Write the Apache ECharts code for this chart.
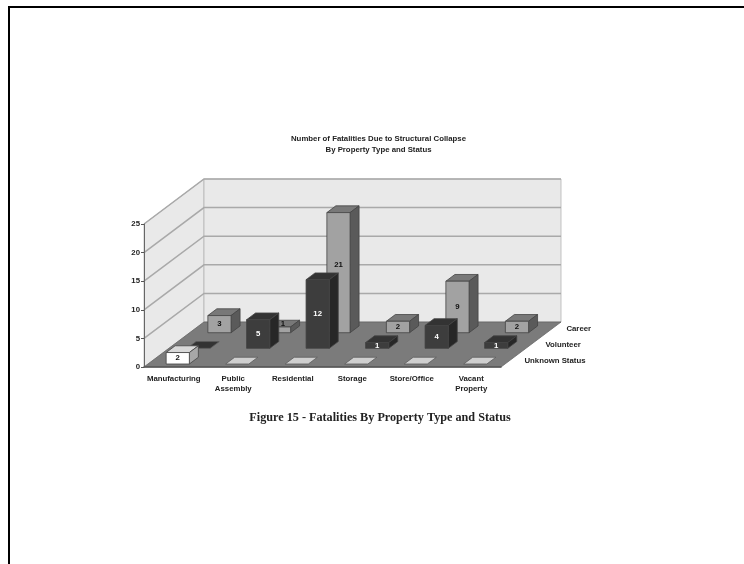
<!DOCTYPE html>
<html>
<head>
<meta charset="utf-8">
<style>html,body{margin:0;padding:0;background:#fff}#chart{width:744px;height:564px}</style>
<script src="https://cdn.jsdelivr.net/npm/echarts@6/dist/echarts.min.js"></script>
</head>
<body>
<div id="chart"></div>
<script>
const categories = ['Manufacturing', 'Public\nAssembly', 'Residential', 'Storage', 'Store/Office', 'Vacant\nProperty'];
const yTicks = [0, 5, 10, 15, 20, 25];
const career = [3, 1, 21, 2, 9, 2];
const volunteer = [0, 5, 12, 1, 4, 1];
const unknownStatus = [2, 0, 0, 0, 0, 0];
const statusNames = ['Career', 'Volunteer', 'Unknown Status'];

// Oblique projection: how far the back of the floor sits from the front edge.
const DEPTH_X = 60, DEPTH_Y = -45;
const FONT = '"Liberation Sans", Arial, sans-serif';
const TEXT_SIZE = 7.8;
const BAR_DEPTH = 0.15, BAR_WIDTH = 0.39;
const ROW_CENTER = [0.84, 0.49, 0.14];
// Back-row values that would otherwise fall behind the column standing before them.
const CAREER_LABEL_NUDGE = { 1: [4, -6], 2: [0, -8] };

const shift = (p, d) => [p[0] + DEPTH_X * d, p[1] + DEPTH_Y * d];
const poly = (points, fill, stroke) => ({
  type: 'polygon',
  shape: { points },
  style: { fill, stroke: stroke || '#444', lineWidth: 0.8 }
});

// Walls, floor and gridlines, all anchored on the axis scales.
function renderBackdrop(params, api) {
  const o = api.coord([0, 0]);
  const r = [api.coord([5, 0])[0] + api.size([1, 0])[0] / 2, o[1]];
  const l = [r[0] - api.size([1, 0])[0] * 6, o[1]];
  const top = api.coord([0, 25])[1];
  const lt = [l[0], top], rt = [r[0], top];
  const children = [
    poly([l, shift(l, 1), shift(lt, 1), lt], '#e9e9e9', '#b4b4b4'),
    poly([shift(l, 1), shift(r, 1), shift(rt, 1), shift(lt, 1)], '#e9e9e9', '#b4b4b4'),
    poly([l, r, shift(r, 1), shift(l, 1)], '#7b7b7b', '#666')
  ];
  yTicks.slice(1).forEach(v => {
    const y = api.coord([0, v])[1];
    children.push({
      type: 'polyline',
      shape: { points: [[l[0], y], shift([l[0], y], 1), shift([r[0], y], 1)] },
      style: { fill: 'none', stroke: '#a9a9a9', lineWidth: 1.5 }
    });
  });
  statusNames.forEach((name, i) => {
    const anchor = shift(r, ROW_CENTER[i]);
    children.push({
      type: 'text',
      style: {
        x: anchor[0] + 15, y: anchor[1], text: name,
        fill: '#222', font: 'bold ' + TEXT_SIZE + 'px ' + FONT, align: 'left', verticalAlign: 'middle'
      }
    });
  });
  return { type: 'group', children };
}

// One pseudo-3D column: front face, side and top.
function barRenderer(rowFront, look) {
  return function (params, api) {
    const value = api.value(1);
    const base = api.coord([api.value(0), 0]);
    const tip = api.coord([api.value(0), value]);
    const half = api.size([1, 0])[0] * BAR_WIDTH / 2;
    const bl = shift([base[0] - half, base[1]], rowFront);
    const br = shift([base[0] + half, base[1]], rowFront);
    const tl = shift([base[0] - half, tip[1]], rowFront);
    const tr = shift([base[0] + half, tip[1]], rowFront);
    if (value === 0) {
      return poly([bl, br, shift(br, BAR_DEPTH), shift(bl, BAR_DEPTH)], look.flat, '#5c5c5c');
    }
    return {
      type: 'group',
      children: [
        poly([tl, tr, shift(tr, BAR_DEPTH), shift(tl, BAR_DEPTH)], look.top),
        poly([br, tr, shift(tr, BAR_DEPTH), shift(br, BAR_DEPTH)], look.side),
        poly([bl, br, tr, tl], look.front)
      ]
    };
  };
}

// Value captions, drawn after every column so none is hidden.
function labelRenderer(rowFront, look, nudge) {
  return function (params, api) {
    const value = api.value(1);
    if (value === 0) return null;
    const base = shift(api.coord([api.value(0), 0]), rowFront);
    const tip = shift(api.coord([api.value(0), value]), rowFront);
    const offset = nudge[api.value(0)] || [0, 0];
    return {
      type: 'text',
      style: {
        x: base[0] + offset[0], y: (base[1] + tip[1]) / 2 + offset[1], text: String(value),
        fill: look.label, font: 'bold ' + TEXT_SIZE + 'px ' + FONT, align: 'center', verticalAlign: 'middle'
      }
    };
  };
}

const rows = [
  { name: 'Career', data: career, front: 0.762, nudge: CAREER_LABEL_NUDGE,
    look: { front: '#a2a2a2', side: '#5a5a5a', top: '#787878', flat: '#a2a2a2', label: '#111' } },
  { name: 'Volunteer', data: volunteer, front: 0.415, nudge: {},
    look: { front: '#3d3d3d', side: '#272727', top: '#333333', flat: '#333333', label: '#fff' } },
  { name: 'Unknown Status', data: unknownStatus, front: 0.067, nudge: {},
    look: { front: '#ffffff', side: '#a8a8a8', top: '#d9d9d9', flat: '#cfcfcf', label: '#111' } }
];

const chart = echarts.init(document.getElementById('chart'), null, { renderer: 'canvas' });
chart.setOption({
  animation: false,
  backgroundColor: '#fff',
  title: [
    {
      text: 'Number of Fatalities Due to Structural Collapse\nBy Property Type and Status',
      left: 373.5, top: 128, textAlign: 'center',
      textStyle: { fontFamily: FONT, fontSize: TEXT_SIZE, fontWeight: 'bold', color: '#222', lineHeight: 11 }
    },
    {
      text: 'Figure 15 - Fatalities By Property Type and Status',
      left: 375, top: 407, textAlign: 'center',
      textStyle: { fontFamily: '"Liberation Serif", serif', fontSize: 12.2, fontWeight: 'bold', color: '#222' }
    }
  ],
  grid: { left: 144, top: 224, width: 357, height: 143 },
  xAxis: {
    type: 'category',
    data: categories,
    z: 5,
    axisLine: { lineStyle: { color: '#555', width: 1.5 } },
    axisTick: { alignWithLabel: false, length: 4, lineStyle: { color: '#555' } },
    axisLabel: {
      interval: 0, margin: 7, fontFamily: FONT, fontSize: TEXT_SIZE, fontWeight: 'bold',
      color: '#222', lineHeight: 10
    }
  },
  yAxis: {
    type: 'value',
    min: 0, max: 25, interval: 5,
    z: 5,
    axisLine: { show: true, lineStyle: { color: '#666' } },
    axisTick: { show: true, length: 3, lineStyle: { color: '#555' } },
    splitLine: { show: false },
    axisLabel: { margin: 4, fontFamily: FONT, fontSize: TEXT_SIZE, fontWeight: 'bold', color: '#222' }
  },
  graphic: [
    { type: 'polyline', silent: true,
      shape: { points: [[9, 564], [9, 7], [744, 7]] },
      style: { fill: 'none', stroke: '#000', lineWidth: 2 } }
  ],
  series: [
    {
      type: 'custom', name: 'backdrop', silent: true, z: 1, clip: false,
      renderItem: renderBackdrop, data: [[0, 0]], encode: { x: 0, y: 1 }
    }
  ].concat(rows.map((row, i) => ({
    type: 'custom', name: row.name, z: 2 + i, clip: false,
    renderItem: barRenderer(row.front, row.look),
    encode: { x: 0, y: 1 },
    data: row.data.map((v, c) => [c, v])
  }))).concat(rows.map((row) => ({
    type: 'custom', name: row.name + ' values', z: 6, clip: false, silent: true,
    renderItem: labelRenderer(row.front, row.look, row.nudge),
    encode: { x: 0, y: 1 },
    data: row.data.map((v, c) => [c, v])
  })))
});
</script>
</body>
</html>
